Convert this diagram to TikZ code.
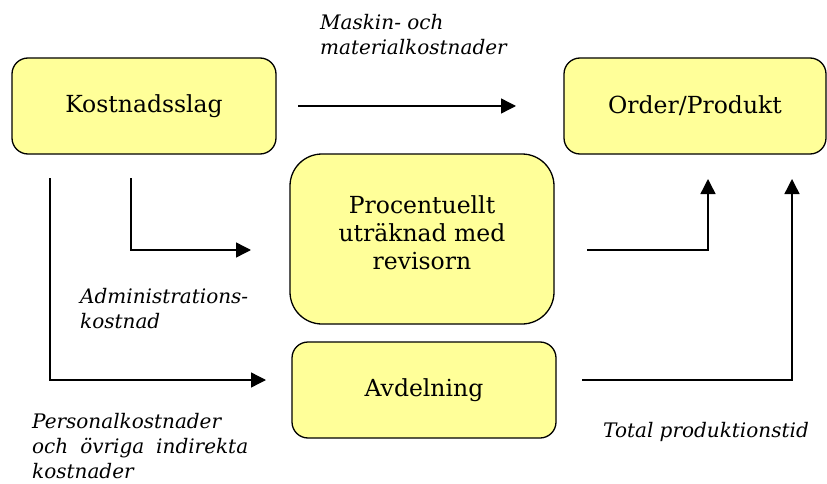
\documentclass[tikz,border=0pt]{standalone}
\usepackage{fontspec}
\setmainfont{DejaVu Serif}
\usetikzlibrary{arrows.meta}
\definecolor{boxyellow}{HTML}{FFFF99}

\begin{document}
\begin{tikzpicture}[x=1pt, y=-1pt,
    box/.style={draw=black, line width=1.3pt, fill=boxyellow, rounded corners=16pt,
      minimum width=264pt, minimum height=96pt, inner sep=0pt, align=center,
      font=\fontsize{23.5}{28}\selectfont},
    lbl/.style={anchor=base west, inner sep=0pt, align=left,
      font=\fontsize{20}{25}\selectfont\itshape},
    flow/.style={line width=1.4pt, -{Triangle[length=15pt, width=15pt]}}]
  \useasboundingbox (0,0) rectangle (827,484);

  % rutorna
  \node[box] (slag) at (144,106) {Kostnadsslag};
  \node[box, minimum width=262pt] (order) at (695,106) {Order/Produkt};
  \node[box, minimum height=170pt, rounded corners=32pt] (procent) at (422,239)
    {\\[-22pt]Procentuellt\\uträknad med\\revisorn};
  \node[box] (avd) at (424,390) {Avdelning};

  % pilarnas ändpunkter
  \coordinate (maskinA) at (298,106);
  \coordinate (maskinB) at (516,106);
  \coordinate (adminA) at (131,178);
  \coordinate (adminB) at (251,250);
  \coordinate (persA) at (50,178);
  \coordinate (persB) at (266,380);
  \coordinate (revA) at (587,250);
  \coordinate (revB) at (708,179);
  \coordinate (totA) at (582,380);
  \coordinate (totB) at (792,179);

  % pilar
  \draw[flow] (maskinA) -- (maskinB);
  \draw[flow] (adminA) |- (adminB);
  \draw[flow] (persA) |- (persB);
  \draw[flow] (revA) -| (revB);
  \draw[flow] (totA) -| (totB);

  % texter (baslinjen = sista raden)
  \node[lbl] (maskin) at (320,55) {Maskin- och\\materialkostnader};
  \node[lbl] (admin) at (80,328) {Administrations-\\kostnad};
  \node[lbl] (pers) at (32,478)
    {Personalkostnader\\\makebox[216pt][s]{och övriga indirekta}\\kostnader};
  \node[lbl] (tot) at (603,437) {Total produktionstid};
\end{tikzpicture}
\end{document}
